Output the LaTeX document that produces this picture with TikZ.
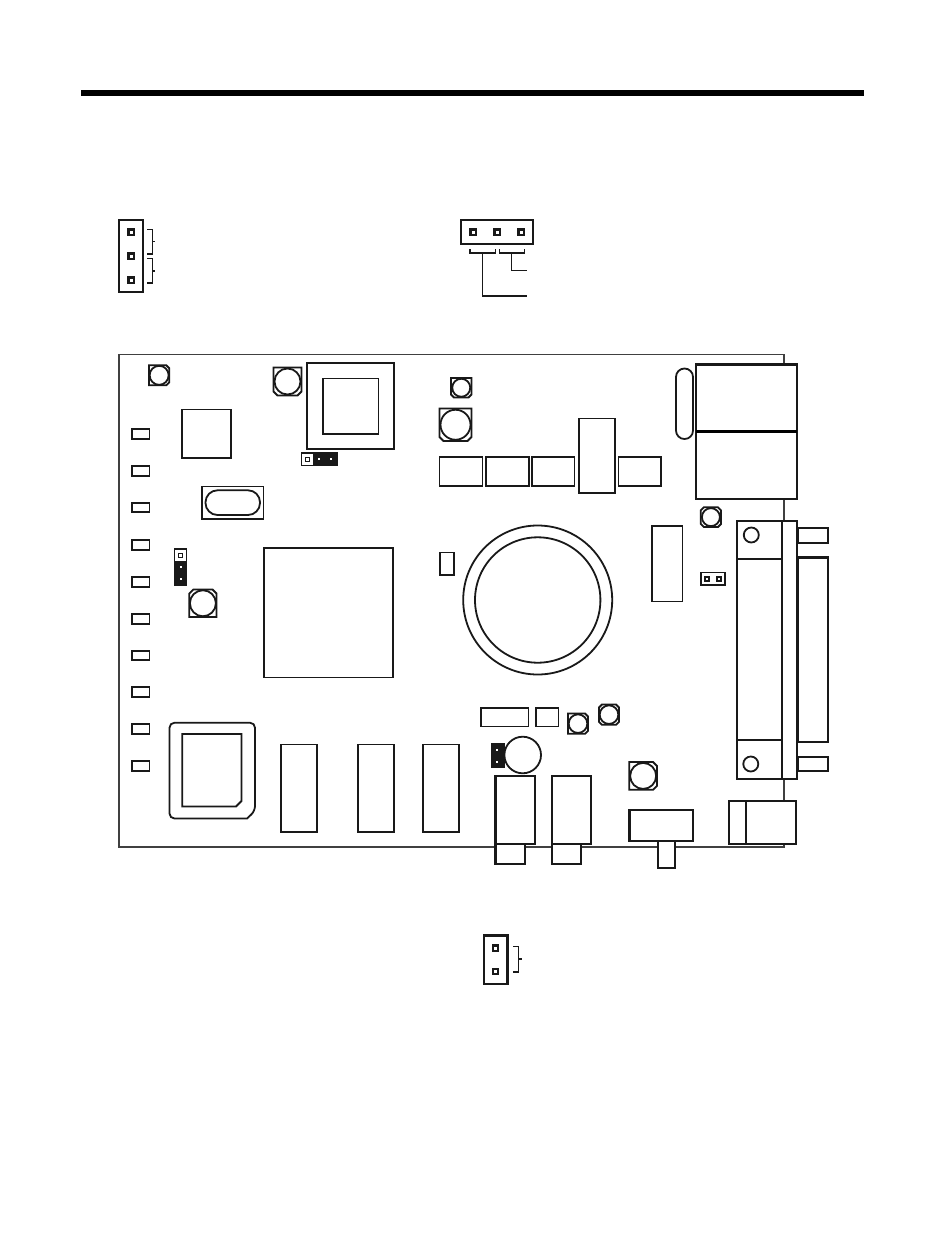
\documentclass[tikz,border=0pt]{standalone}
\newcommand\capa[9]{% x1 y1 x2 y2 r tl tr br bl
  \draw[part,fill=white] (#1+#6,#2) -- (#3-#7,#2) -- (#3,#2+#7) -- (#3,#4-#8) -- (#3-#8,#4) -- (#1+#9,#4) -- (#1,#4-#9) -- (#1,#2+#6) -- cycle;
  \draw[thickp] ({(#1+#3)/2},{(#2+#4)/2}) circle (#5);
}
\newcommand\pinbox[2]{\draw[pin,fill=white] (#1-2.7,#2-2.7) rectangle (#1+2.7,#2+2.7);}
\newcommand\smallpin[2]{\draw[pin,fill=white] (#1-2,#2-2) rectangle (#1+2,#2+2);}
\newcommand\whitedot[2]{\fill[white] (#1-1.2,#2-1.2) rectangle (#1+1.2,#2+1.2);}
\newcommand\rectp[4]{\draw[part,fill=white] (#1,#2) rectangle (#3,#4);}
\tikzset{
  part/.style={line width=1.8pt,draw=black!90},
  thickp/.style={line width=1.8pt,draw=black!90},
  boardline/.style={line width=1.6pt,draw=black!75},
  heavy/.style={line width=2.1pt,draw=black!90},
  pin/.style={line width=2.4pt,draw=black!90},
  lead/.style={line width=1.1pt,draw=black!90},
  tick/.style={line width=1.5pt,draw=black!90},
}
\begin{document}
\begin{tikzpicture}[x=1pt,y=-1pt]
\useasboundingbox[fill=white] (0,0) rectangle (945,1242);
% top rule
\fill[black] (81,90) rectangle (864,96);
% left header
\draw[heavy] (119,220) rectangle (143,292);
\pinbox{131}{232}\pinbox{131}{256}\pinbox{131}{280}
\draw[tick] (147,229.3) -- (152.3,229.3) -- (152.3,253.8) -- (147,253.8);
\draw[tick] (147,258.7) -- (152.3,258.7) -- (152.3,283) -- (147,283);
\draw[lead] (152.3,241.3) -- (155,241.3);
\draw[lead] (152.3,271) -- (155,271);
% top header
\draw[heavy] (461,220) rectangle (533,244);
\pinbox{473}{232}\pinbox{497}{232}\pinbox{521}{232}
\draw[tick] (470,249) -- (470,253) -- (495.3,253) -- (495.3,249);
\draw[tick] (499.3,249) -- (499.3,253) -- (524.3,253) -- (524.3,249);
\draw[lead] (482.7,253) -- (482.7,296) -- (527,296);
\draw[lead] (511.7,253) -- (511.7,270.7) -- (527,270.7);
% board
\draw[boardline] (119,354.3) rectangle (784,847);
% small caps
\capa{149}{365.3}{169.3}{385.3}{9.5}{0}{3}{3}{0}
\capa{273.5}{367.5}{301.5}{395.5}{13}{0}{0}{4}{4}
\capa{451}{378}{471.5}{397.5}{9}{0}{0}{3}{3}
\capa{439.5}{408.5}{471.5}{441}{15}{0}{0}{4}{4}
\capa{189.3}{589.5}{216.5}{617}{13}{4}{4}{0}{0}
\capa{700.8}{507.3}{721}{527}{9}{3}{3}{3}{3}
\capa{568}{713.5}{588}{733.8}{9.3}{0}{3}{3}{0}
\capa{599}{704.5}{619}{724.8}{9.3}{3}{3}{3}{3}
\capa{629.3}{762}{657}{789.8}{13}{0}{4}{4}{0}
% transformer
\draw[heavy,fill=white] (307.3,363) rectangle (394,449);
\rectp{323}{378.5}{378.5}{433.7}
\rectp{182.3}{409.5}{231}{458}
% LEDs
\foreach \y in {434,471,507.5,545,582,619,655.5,692,729,766}
  \draw[part,fill=white] (132,\y-4.7) rectangle (149.5,\y+4.7);
% crystal
\rectp{202}{486.5}{263.5}{518.8}
\draw[part,rounded corners=12pt] (205.5,490.3) rectangle (260,515);
% horizontal jumper
\fill[black!90] (300.5,452.3) rectangle (337.7,465.7);
\fill[white] (301.5,453.5) rectangle (313,464.5);
\draw[lead,line width=1pt] (305,457) rectangle (309,461);
\whitedot{319}{459}\whitedot{331}{459}
% vertical jumper
\fill[black!90] (174,548.3) rectangle (186.7,585.7);
\fill[white] (175,549.5) rectangle (185.7,561);
\draw[lead,line width=1pt] (178,553) rectangle (182,557);
\whitedot{181}{567}\whitedot{181}{579}
% large chip
\rectp{264}{548}{393}{677.5}
\rectp{440}{552.5}{454}{575}
% toroid
\draw[part,fill=white] (537.7,600) circle (74.5);
\draw[part] (537.7,600) circle (62.7);
% row of parts
\rectp{439.5}{457}{482.5}{486}
\rectp{486}{457}{528.7}{486}
\rectp{531.7}{457}{574.5}{486}
\rectp{618.5}{457}{661}{486}
\rectp{579}{418.5}{615}{493}
% oval
\draw[part,fill=white,rounded corners=8.4pt] (676,368.5) rectangle (693,439);
% RJ block
\draw[heavy,fill=white] (696,364.5) rectangle (797,499);
\fill[black] (696,430) rectangle (797,433.3);
% chip right
\rectp{652.3}{526}{682.5}{601.5}
% small jumper
\draw[part,fill=white] (701,572.5) rectangle (725,585);
\smallpin{707}{579}\smallpin{719}{579}
% D connector
\draw[heavy,fill=white] (797.5,528) rectangle (828,543);
\draw[heavy,fill=white] (798,557.5) rectangle (828,742);
\draw[heavy,fill=white] (798,757) rectangle (828,771);
\draw[heavy,fill=white] (737,521) rectangle (782,779);
\draw[heavy] (737,559) -- (782,559);
\draw[heavy] (737,740) -- (782,740);
\draw[heavy,fill=white] (782,521) rectangle (797.3,779);
\draw[part] (751.3,535) circle (7.5);
\draw[part] (750.8,764) circle (7.5);
% power jack
\draw[heavy,fill=white] (729.3,801) rectangle (796,844);
\draw[part] (746.3,801) -- (746.3,844);
% switch
\draw[heavy,fill=white] (629.5,810) rectangle (693.3,841);
\draw[part,fill=white] (658.3,841) rectangle (675.3,868);
% bottom row
\rectp{481}{708}{528.5}{726.5}
\rectp{536}{708}{558.5}{726.5}
\fill[black!90] (491,743) rectangle (504.5,767.7);
\whitedot{496.7}{750}\whitedot{496.7}{761.7}
\draw[part,fill=white] (522.7,755) circle (18.3);
\draw[heavy,fill=white] (495.5,776) rectangle (535.3,844);
\draw[heavy,fill=white] (552,776) rectangle (591.3,844);
\draw[heavy,fill=white] (495.5,844) rectangle (525.3,864);
\draw[heavy,fill=white] (552,844) rectangle (581.3,864);
% socket
\draw[part,fill=white,rounded corners=5pt] (169.5,722.7) -- (255,722.7) -- (255,811) [sharp corners] -- (247,818.5) [rounded corners=5pt] -- (169.5,818.5) -- cycle;
\draw[part] (182.3,734) -- (241.5,734) -- (241.5,801) -- (236,806.5) -- (182.3,806.5) -- cycle;
% DIP chips
\rectp{281}{744.5}{317}{832}
\rectp{358}{744.5}{394}{832}
\rectp{423}{744.5}{459}{832}
% bottom header
\draw[heavy] (484,935.5) rectangle (507.5,984.3);
\pinbox{495.5}{948}\pinbox{495.5}{971.5}
\draw[tick] (513.3,946.7) -- (518.5,946.7) -- (518.5,972) -- (513.3,972);
\draw[lead] (518.5,959) -- (522,959);
\end{tikzpicture}
\end{document}
